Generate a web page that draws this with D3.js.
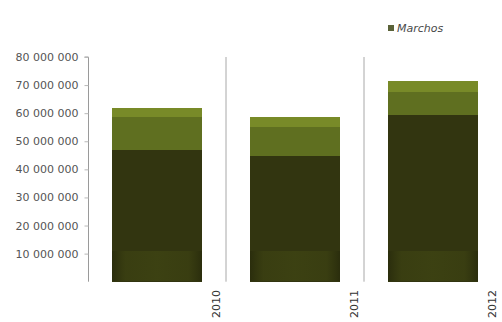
<!DOCTYPE html>
<html>
<head>
<meta charset="utf-8">
<script src="https://cdn.jsdelivr.net/npm/d3@7"></script>
<style>
  html, body { margin: 0; padding: 0; background: #fff; }
  svg { display: block; }
</style>
</head>
<body>
<svg id="chart" width="502" height="322"></svg>
<script>
// Years on the category axis
const years = ["2010", "2011", "2012"];
// Stacked segments, bottom to top (values in units)
const baseValues = [47000000, 44900000, 59500000];
const middleValues = [11800000, 10000000, 7900000];
const topValues = [3100000, 3900000, 3900000];
// Value axis ticks
const yTicks = [10000000, 20000000, 30000000, 40000000, 50000000, 60000000, 70000000, 80000000];
const legendLabels = ["Marchos"];

const segColors = ["#323510", "#5f6f20", "#788a28"];

const svg = d3.select("#chart");
const fmt = v => d3.format(",")(v).replace(/,/g, " ");

const y = d3.scaleLinear().domain([0, 80000000]).range([281.7, 57]);
const x = d3.scaleBand().domain(years).range([88, 502]).padding(0);
const barW = x.bandwidth() * 0.652;

const rows = years.map((yr, i) => ({
  year: yr,
  base: baseValues[i],
  middle: middleValues[i],
  top: topValues[i]
}));
const stack = d3.stack().keys(["base", "middle", "top"])(rows);

// Defs: soft tint near the bottom of the bars
const defs = svg.append("defs");
const grad = defs.append("linearGradient").attr("id", "bottomTint")
  .attr("x1", 0).attr("x2", 1).attr("y1", 0).attr("y2", 0);
grad.append("stop").attr("offset", "0%").attr("stop-color", "#1c1f06").attr("stop-opacity", 0.35);
grad.append("stop").attr("offset", "15%").attr("stop-color", "#4a5214").attr("stop-opacity", 0.3);
grad.append("stop").attr("offset", "50%").attr("stop-color", "#4e5716").attr("stop-opacity", 0.35);
grad.append("stop").attr("offset", "85%").attr("stop-color", "#4a5214").attr("stop-opacity", 0.3);
grad.append("stop").attr("offset", "100%").attr("stop-color", "#1c1f06").attr("stop-opacity", 0.35);

// Category separators
svg.append("g").selectAll("line")
  .data(years.slice(0, -1))
  .join("line")
  .attr("x1", d => x(d) + x.bandwidth())
  .attr("x2", d => x(d) + x.bandwidth())
  .attr("y1", y(80000000))
  .attr("y2", y(0))
  .attr("stroke", "#a8a8a8")
  .attr("stroke-width", 1);

// Stacked bars
svg.append("g").selectAll("g")
  .data(stack)
  .join("g")
  .attr("fill", (d, i) => segColors[i])
  .attr("shape-rendering", "crispEdges")
  .selectAll("rect")
  .data(d => d)
  .join("rect")
  .attr("x", d => x(d.data.year) + (x.bandwidth() - barW) / 2)
  .attr("width", barW)
  .attr("y", d => y(d[1]))
  .attr("height", d => y(d[0]) - y(d[1]));

// Bottom tint band of each bar
svg.append("g").selectAll("rect")
  .data(rows)
  .join("rect")
  .attr("shape-rendering", "crispEdges")
  .attr("x", d => x(d.year) + (x.bandwidth() - barW) / 2)
  .attr("width", barW)
  .attr("y", y(11000000))
  .attr("height", y(0) - y(11000000) - 1)
  .attr("fill", "url(#bottomTint)");

// Value axis
const yAxis = d3.axisLeft(y)
  .tickValues(yTicks)
  .tickSize(4)
  .tickFormat(fmt);
const ya = svg.append("g")
  .attr("transform", "translate(88.5,0)")
  .call(yAxis);
ya.select(".domain").attr("stroke", "#9a9a9a").attr("d", `M-4,${y(80000000)}H0V${y(0)}`);
ya.selectAll(".tick line").attr("stroke", "#b8b8b8");
ya.selectAll(".tick text")
  .attr("x", -10)
  .attr("fill", "#555")
  .style("font-family", "'DejaVu Sans', sans-serif")
  .style("font-size", "11px");

// Year labels, rotated
svg.append("g").selectAll("text")
  .data(years)
  .join("text")
  .attr("transform", d => `translate(${x(d) + x.bandwidth() - 6},290) rotate(-90)`)
  .attr("text-anchor", "end")
  .attr("fill", "#333")
  .style("font-family", "'DejaVu Sans', sans-serif")
  .style("font-size", "11px")
  .text(d => d);

// Legend
const lg = svg.append("g").attr("transform", "translate(388,28)");
lg.append("rect").attr("x", 0).attr("y", -3).attr("width", 6).attr("height", 6).attr("fill", "#5a6238");
lg.append("text")
  .attr("x", 9).attr("y", 4)
  .attr("fill", "#4a4a4a")
  .style("font-family", "'DejaVu Sans', sans-serif")
  .style("font-size", "11px")
  .style("font-style", "italic")
  .text(legendLabels[0]);
</script>
</body>
</html>
